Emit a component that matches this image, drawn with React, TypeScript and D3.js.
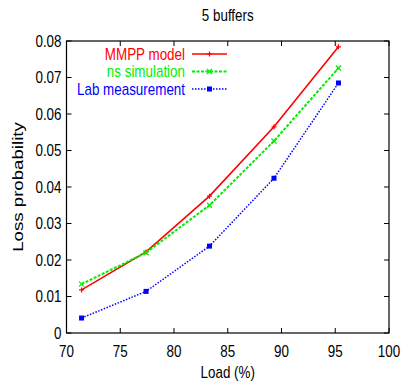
import { useRef, useEffect } from "react";
import * as d3 from "d3";

const loads = [71.4, 77.4, 83.3, 89.3, 95.3];
const mmppModel = [0.0118, 0.0222, 0.0375, 0.0565, 0.0784];
const nsSimulation = [0.0134, 0.022, 0.035, 0.0526, 0.0726];
const labMeasurement = [0.0041, 0.0114, 0.0238, 0.0424, 0.0685];
const xTicks = [70, 75, 80, 85, 90, 95, 100];
const yTicks = [0, 0.01, 0.02, 0.03, 0.04, 0.05, 0.06, 0.07, 0.08];

const series = [
    { name: "MMPP model", values: mmppModel, color: "#ff0000", dash: null, width: 1.6, marker: "plus" },
    { name: "ns simulation", values: nsSimulation, color: "#00ee00", dash: "3,1.5", width: 2, marker: "cross" },
    { name: "Lab measurement", values: labMeasurement, color: "#0000ff", dash: "1.5,1.5", width: 1.5, marker: "square" },
];

const W = 403;
const H = 385;

const App = () => {
    const ref = useRef(null);

    useEffect(() => {
        const svg = d3.select(ref.current);
        svg.selectAll("*").remove();

        const m = { left: 66.5, right: 14, top: 41, bottom: 52 };
        const font = "Liberation Sans, Arial, sans-serif";
        const fs = 13.4;
        const sy = 1.22; // text in the original looks vertically stretched

        const x = d3.scaleLinear().domain([70, 100]).range([m.left, W - m.right]);
        const y = d3.scaleLinear().domain([0, 0.08]).range([H - m.bottom, m.top]);

        const label = (g, tx, ty, str, anchor, color = "black") =>
            g.append("text")
                .attr("transform", `translate(${tx},${ty}) scale(1,${sy})`)
                .attr("text-anchor", anchor)
                .attr("font-family", font).attr("font-size", fs)
                .attr("fill", color)
                .text(str);

        svg.append("rect").attr("width", W).attr("height", H).attr("fill", "white");

        // frame
        svg.append("rect")
            .attr("x", x(70)).attr("y", y(0.08))
            .attr("width", x(100) - x(70)).attr("height", y(0) - y(0.08))
            .attr("fill", "none").attr("stroke", "black").attr("stroke-width", 1.2);

        const tl = 5;
        const axisG = svg.append("g").attr("stroke", "black").attr("stroke-width", 1);
        xTicks.forEach(t => {
            axisG.append("line").attr("x1", x(t)).attr("x2", x(t)).attr("y1", y(0)).attr("y2", y(0) - tl);
            axisG.append("line").attr("x1", x(t)).attr("x2", x(t)).attr("y1", y(0.08)).attr("y2", y(0.08) + tl);
        });
        yTicks.forEach(t => {
            axisG.append("line").attr("x1", x(70)).attr("x2", x(70) + tl).attr("y1", y(t)).attr("y2", y(t));
            axisG.append("line").attr("x1", x(100)).attr("x2", x(100) - tl).attr("y1", y(t)).attr("y2", y(t));
        });

        const capHalf = fs * 0.716 * sy / 2;
        const tg = svg.append("g");
        xTicks.forEach(t => label(tg, x(t), y(0) + 24, String(t), "middle"));
        yTicks.forEach(t => label(tg, x(70) - 5, y(t) + capHalf, t === 0 ? "0" : d3.format(".2f")(t), "end"));

        label(svg, (x(70) + x(100)) / 2, 21, "5 buffers", "middle");
        label(svg, (x(70) + x(100)) / 2, 378, "Load (%)", "middle");

        svg.append("text")
            .attr("transform", `translate(23, ${(y(0) + y(0.08)) / 2}) scale(1,${sy}) rotate(-90)`)
            .attr("text-anchor", "middle")
            .attr("font-family", font).attr("font-size", 15.3)
            .text("Loss probability");

        const drawMarker = (g, kind, cx, cy, color) => {
            if (kind === "plus") {
                g.append("path").attr("d", `M${cx - 2.5},${cy}H${cx + 2.5}M${cx},${cy - 2.5}V${cy + 2.5}`)
                    .attr("stroke", color).attr("stroke-width", 1.2);
            } else if (kind === "cross") {
                g.append("path").attr("d", `M${cx - 2.5},${cy - 2.5}L${cx + 2.5},${cy + 2.5}M${cx - 2.5},${cy + 2.5}L${cx + 2.5},${cy - 2.5}`)
                    .attr("stroke", color).attr("stroke-width", 1.3);
            } else {
                g.append("rect").attr("x", cx - 2.5).attr("y", cy - 2.5).attr("width", 5).attr("height", 5)
                    .attr("fill", color);
            }
        };

        const line = d3.line().x(d => x(d[0])).y(d => y(d[1]));

        series.forEach((s, i) => {
            const pts = loads.map((l, j) => [l, s.values[j]]);
            const g = svg.append("g");
            g.append("path").datum(pts)
                .attr("d", line)
                .attr("fill", "none")
                .attr("stroke", s.color)
                .attr("stroke-width", s.width)
                .attr("stroke-dasharray", s.dash);
            pts.forEach(p => drawMarker(g, s.marker, x(p[0]), y(p[1]), s.color));

            // legend
            const ly = 54 + i * 17.5;
            label(svg, 185, ly + capHalf, s.name, "end", s.color);
            svg.append("line")
                .attr("x1", 192).attr("x2", 227).attr("y1", ly).attr("y2", ly)
                .attr("stroke", s.color).attr("stroke-width", s.width)
                .attr("stroke-dasharray", s.dash);
            drawMarker(svg, s.marker, 209.5, ly, s.color);
        });
    }, []);

    return <svg ref={ref} width={W} height={H} style={{ position: "absolute", left: 0, top: 0 }}></svg>;
};

export default App;
